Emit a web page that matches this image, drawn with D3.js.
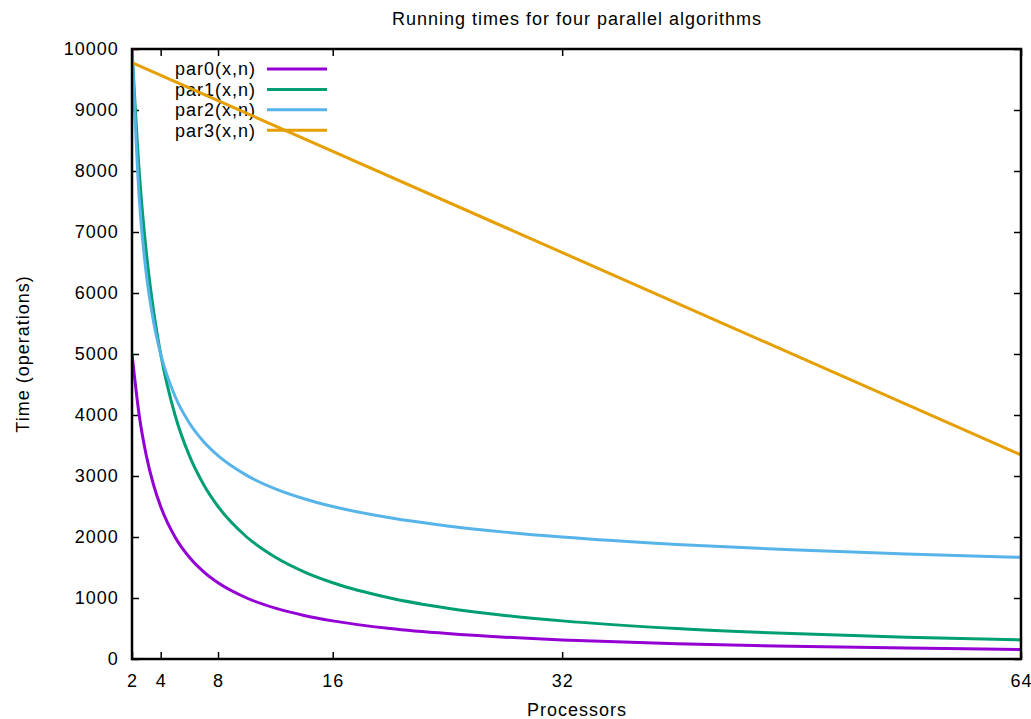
<!DOCTYPE html>
<html>
<head>
<meta charset="utf-8">
<script src="https://cdn.jsdelivr.net/npm/d3@7"></script>
<style>
  html, body { margin: 0; padding: 0; background: #fff; }
  svg text { font-family: "Liberation Sans", Arial, Helvetica, sans-serif; font-size: 18px; letter-spacing: 1px; fill: #000; }
</style>
</head>
<body>
<svg id="chart" width="1031" height="719"></svg>
<script>
// ---- data ----
const xs = [2, 2.5, 3, 3.5, 4, 5, 6, 7, 8, 10, 12, 14, 16, 20, 24, 28, 32, 40, 48, 56, 64];
const par0 = [5000, 4000, 3333, 2857, 2500, 2000, 1667, 1429, 1250, 1000, 833, 714, 625, 500, 417, 357, 313, 250, 208, 179, 156];
const par1 = [10000, 8000, 6667, 5714, 5000, 4000, 3333, 2857, 2500, 2000, 1667, 1429, 1250, 1000, 833, 714, 625, 500, 417, 357, 313];
const par2 = [10000, 7565, 6309, 5533, 5000, 4307, 3869, 3562, 3333, 3010, 2789, 2627, 2500, 2314, 2181, 2080, 2000, 1879, 1790, 1722, 1667];
const par3X = [2, 64];
const par3 = [9775, 3345];
const seriesNames = ["par0(x,n)", "par1(x,n)", "par2(x,n)", "par3(x,n)"];
const colors = ["#9400d3", "#009e73", "#56b4e9", "#e69f00"];
const xTicks = [2, 4, 8, 16, 32, 64];
const yTicks = [0, 1000, 2000, 3000, 4000, 5000, 6000, 7000, 8000, 9000, 10000];
const title = "Running times for four parallel algorithms";
const xLabel = "Processors";
const yLabel = "Time (operations)";

// ---- layout ----
const L = 132, R = 1021, T = 49, B = 659;
const svg = d3.select("#chart");
const x = d3.scaleLinear().domain([2, 64]).range([L, R]);
const y = d3.scaleLinear().domain([0, 10000]).range([B, T]);

svg.append("defs").append("clipPath").attr("id", "clip")
  .append("rect").attr("x", L).attr("y", T).attr("width", R - L).attr("height", B - T);

// title & labels
svg.append("text").attr("x", 577).attr("y", 25).attr("text-anchor", "middle").text(title);
svg.append("text").attr("x", 577).attr("y", 716).attr("text-anchor", "middle").text(xLabel);
svg.append("text").attr("transform", "translate(29,354) rotate(-90)").attr("text-anchor", "middle").text(yLabel);

// axes (ticks inward, mirrored)
const tickLen = 7;
const axB = d3.axisBottom(x).tickValues(xTicks).tickSize(-tickLen).tickPadding(tickLen + 8).tickFormat(d3.format("d"));
const axT = d3.axisTop(x).tickValues(xTicks).tickSize(-tickLen).tickFormat("");
const axL = d3.axisLeft(y).tickValues(yTicks).tickSize(-tickLen).tickPadding(tickLen + 8).tickFormat(d3.format("d"));
const axR = d3.axisRight(y).tickValues(yTicks).tickSize(-tickLen).tickFormat("");

function styleAxis(g) {
  g.select(".domain").remove();
  g.selectAll(".tick line").attr("stroke", "#000").attr("stroke-width", 1.5);
  g.selectAll(".tick text").attr("font-size", null).attr("font-family", null).style("font-size", "18px");
}
svg.append("g").attr("transform", `translate(0,${B})`).call(axB).call(styleAxis)
  .selectAll(".tick text").attr("dy", "0.71em");
svg.append("g").attr("transform", `translate(0,${T})`).call(axT).call(styleAxis);
svg.append("g").attr("transform", `translate(${L},0)`).call(axL).call(styleAxis)
  .selectAll(".tick text").attr("dx", "0.1em");
svg.append("g").attr("transform", `translate(${R},0)`).call(axR).call(styleAxis);

// legend text
const legY0 = 69, legDY = 20.4;
seriesNames.forEach((name, i) => {
  svg.append("text").attr("x", 256).attr("y", legY0 + i * legDY).attr("dy", "0.35em")
    .attr("text-anchor", "end").text(name);
});

// curves
const line = d3.line().x(d => x(d[0])).y(d => y(d[1])).curve(d3.curveMonotoneX);
const data = [
  xs.map((v, i) => [v, par0[i]]),
  xs.map((v, i) => [v, par1[i]]),
  xs.map((v, i) => [v, par2[i]]),
  par3X.map((v, i) => [v, par3[i]])
];
const plot = svg.append("g").attr("clip-path", "url(#clip)");
data.forEach((d, i) => {
  svg.append("line").attr("x1", 267).attr("x2", 327)
    .attr("y1", legY0 + i * legDY).attr("y2", legY0 + i * legDY)
    .attr("stroke", colors[i]).attr("stroke-width", 3);
  plot.append("path").datum(d).attr("d", line).attr("fill", "none")
    .attr("stroke", colors[i]).attr("stroke-width", 3).attr("stroke-linejoin", "round");
});

// border
svg.append("rect").attr("x", L).attr("y", T).attr("width", R - L).attr("height", B - T)
  .attr("fill", "none").attr("stroke", "#000").attr("stroke-width", 2.5);
</script>
</body>
</html>
